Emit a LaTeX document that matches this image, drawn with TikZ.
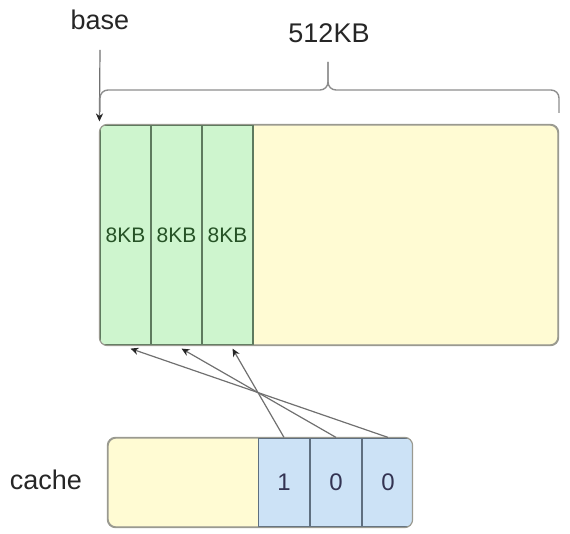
\documentclass[tikz,border=0pt]{standalone}
\usepackage{fontspec}
\setmainfont{Liberation Sans}
\usetikzlibrary{arrows.meta}

\definecolor{memyellow}{HTML}{FFFBD3}
\definecolor{memgreen}{HTML}{CEF5CE}
\definecolor{memblue}{HTML}{CCE2F6}
\definecolor{edgegray}{HTML}{9A9A90}
\definecolor{greenedge}{HTML}{5E7A5E}
\definecolor{blueedge}{HTML}{5F6F80}
\definecolor{linegray}{HTML}{707070}

\begin{document}
\begin{tikzpicture}[x=0.5pt,y=-0.5pt,
  outer/.style={draw=edgegray, line width=0.6pt, rounded corners=4pt, inner sep=0pt},
  cell/.style={draw=#1, line width=0.6pt, inner sep=0pt, minimum width=25.5pt},
  biglabel/.style={font=\fontsize{13.5}{16}\selectfont, text=black!85, anchor=base},
  ptr/.style={draw=linegray, line width=0.6pt, -{Stealth[length=4pt,width=3.6pt,color=black!85]}},
  brace/.style={draw=linegray!80, line width=0.7pt, rounded corners=4pt}]
  % --- 1 unit = 1px of the original picture
  \useasboundingbox (0,0) rectangle (570,534);

  %---------------------------------------
  % memory block: three 8KB chunks and the rest
  \node[outer, fill=memyellow, minimum width=229pt, minimum height=110pt] (mem) at (329,235) {};
  \begin{scope}
    \clip[rounded corners=4pt] (mem.south west) rectangle (mem.north east);
    \foreach \i/\x in {1/125.5,2/176.5,3/227.5}
      \node[cell=greenedge, fill=memgreen, minimum height=110pt, text=green!20!black!85,
            font=\fontsize{10.5}{12}\selectfont] (g\i) at (\x,235) {8KB};
  \end{scope}
  \draw[edgegray, line width=0.6pt, rounded corners=4pt] (mem.south west) rectangle (mem.north east);

  %---------------------------------------
  % cache bitmap
  \node[outer, fill=memyellow, minimum width=152pt, minimum height=44.5pt] (cache) at (260,482.5) {};
  \begin{scope}
    \clip[rounded corners=4pt] (cache.south west) rectangle (cache.north east);
    \foreach \i/\x/\v in {1/284/1,2/336/0,3/388/0}
      \node[cell=blueedge, fill=memblue, minimum height=44.5pt, text=blue!15!black!80,
            font=\fontsize{12}{14}\selectfont] (c\i) at (\x,482.5) {\v};
  \end{scope}
  \draw[edgegray, line width=0.6pt, rounded corners=4pt] (cache.south west) rectangle (cache.north east);

  %---------------------------------------
  % labels
  \node[biglabel] (base) at (100,30) {base};
  \node[biglabel] (size) at (329,43) {512KB};
  \node[biglabel] (cachelabel) at (46,490) {cache};

  % base pointer and 512KB brace
  \draw[ptr] ([yshift=-10pt]base.base) -- ([yshift=1.5pt]mem.north west);
  \draw[brace] (100,112) |- (328,90) -- (328,62);
  \draw[brace] (328,62) -- (328,90) -| (559,113);

  % bits -> chunks
  \draw[ptr] (c1.north) -- ([xshift=2.5pt,yshift=-1.5pt]g3.south);
  \draw[ptr] (c2.north) -- ([xshift=2.5pt,yshift=-1.5pt]g2.south);
  \draw[ptr] (c3.north) -- ([xshift=2.5pt,yshift=-1.5pt]g1.south);
\end{tikzpicture}
\end{document}
